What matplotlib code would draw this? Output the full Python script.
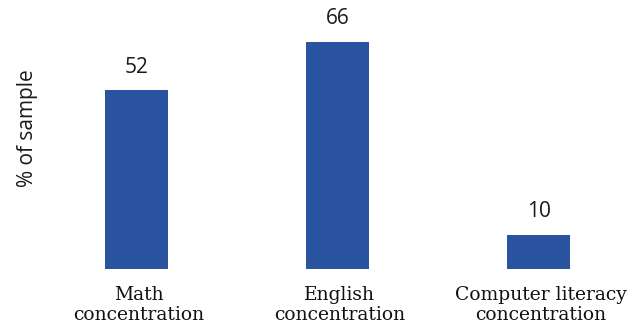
import matplotlib
matplotlib.use("Agg")
import matplotlib.pyplot as plt

categories = ["Math\nconcentration", "English\nconcentration", "Computer literacy\nconcentration"]
values = [52, 66, 10]
value_labels = ["52", "66", "10"]
ylabel = "% of sample"

bar_color = "#2B54A0"

fig = plt.figure(figsize=(6.35, 3.28), dpi=100)
ax = fig.add_axes([60 / 635, 59 / 328, 575 / 635, 258 / 328])

x = list(range(len(values)))
bars = ax.bar(x, values, width=0.313, color=bar_color)

for xi, v, lab in zip(x, values, value_labels):
    ax.annotate(lab, (xi, v), xytext=(0, 9), textcoords="offset points",
                ha="center", va="bottom", fontsize=15, family="Open Sans",
                color="#1a1a1a")

ax.set_xlim(-0.3806, 2.480)
ax.set_ylim(0, 75)
ax.set_xticks([xi + 0.01 for xi in x])
ax.set_xticklabels(categories, family="DejaVu Serif", fontsize=13.5,
                   linespacing=1.17, color="#111111")
ax.tick_params(axis="x", length=0, pad=12)
ax.set_yticks([])
for s in ax.spines.values():
    s.set_visible(False)

fig.text(27 / 635, 1 - 128 / 328, ylabel, rotation=90, ha="center", va="center",
         fontsize=15, family="Open Sans", color="#1a1a1a")

fig.savefig("out.png", dpi=100)
